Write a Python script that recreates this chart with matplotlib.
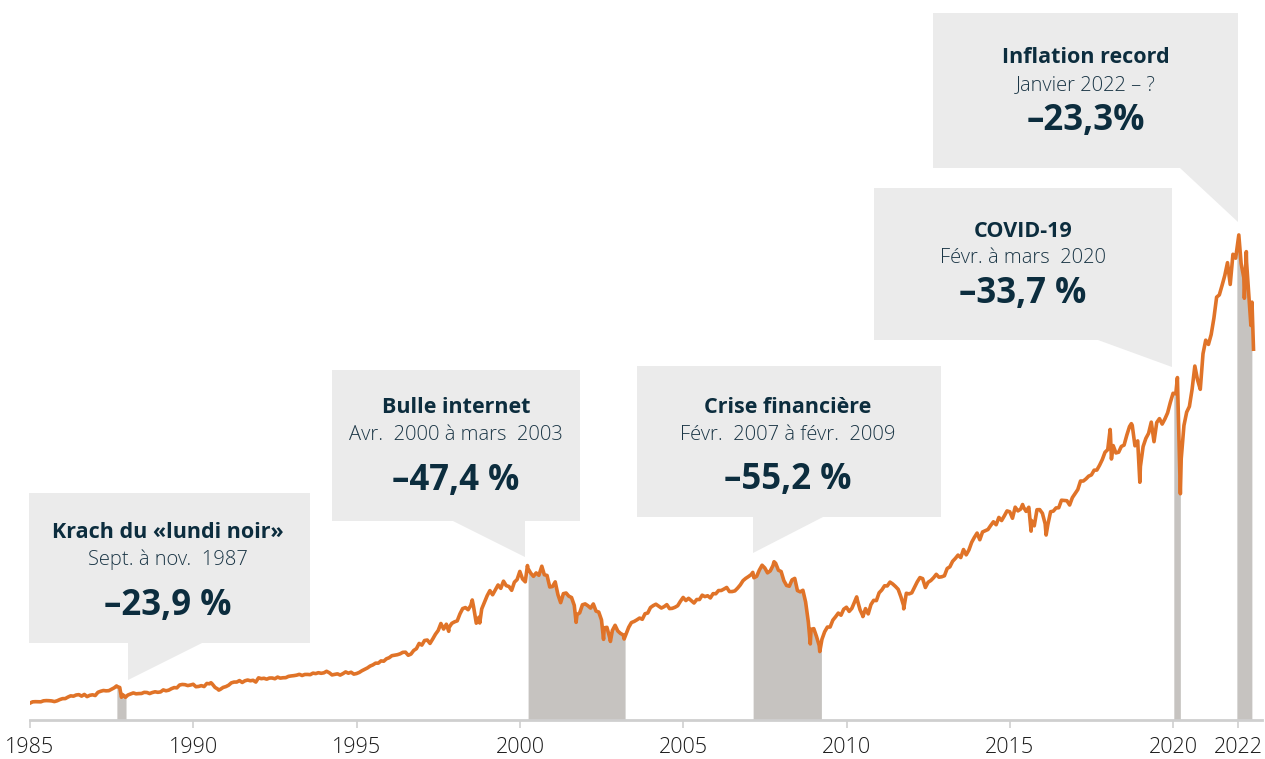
import numpy as np
import matplotlib
matplotlib.use('Agg')
from matplotlib import pyplot as plt
from matplotlib.patches import Polygon

# S&P 500, month-end closes Jan 1985 .. May 2022
start_value = 167.2
monthly_close = [
    179.6, 181.2, 180.7, 179.8, 189.6, 191.9, 190.9, 188.6, 182.1, 189.8, 202.2, 211.3,  # 1985
    211.8, 226.9, 238.9, 235.5, 247.4, 250.8, 236.1, 252.9, 231.3, 244.0, 249.2, 242.2,  # 1986
    274.1, 284.2, 291.7, 288.4, 290.1, 304.0, 318.7, 329.8, 321.8, 251.8, 230.3, 247.1,  # 1987
    257.1, 267.8, 258.9, 261.3, 262.2, 273.5, 272.0, 261.5, 271.9, 279.0, 273.7, 277.7,  # 1988
    297.5, 288.9, 294.9, 309.6, 320.5, 318.0, 346.1, 351.5, 349.2, 340.4, 346.0, 353.4,  # 1989
    329.1, 331.9, 339.9, 330.8, 361.2, 358.0, 356.2, 322.6, 306.1, 304.0, 322.2, 330.2,  # 1990
    343.9, 367.1, 375.2, 375.3, 389.8, 371.2, 387.8, 395.4, 387.9, 392.5, 375.2, 417.1,  # 1991
    408.8, 412.7, 403.7, 415.0, 415.4, 408.1, 424.2, 414.0, 417.8, 418.7, 431.4, 435.7,  # 1992
    438.8, 443.4, 451.7, 440.2, 450.2, 450.5, 448.1, 463.6, 458.9, 467.8, 461.8, 466.5,  # 1993
    481.6, 467.1, 445.8, 450.9, 456.5, 444.3, 458.3, 475.5, 462.7, 472.4, 453.7, 459.3,  # 1994
    470.4, 487.4, 500.7, 514.7, 533.4, 544.8, 562.1, 561.9, 584.4, 581.5, 605.4, 615.9,  # 1995
    636.0, 640.4, 645.5, 654.2, 669.1, 670.6, 640.0, 652.0, 687.3, 705.3, 757.0, 740.7,  # 1996
    786.2, 790.8, 757.1, 801.3, 848.3, 885.1, 954.3, 899.5, 947.3, 914.6, 955.4, 970.4,  # 1997
    980.3, 1049.3, 1101.8, 1111.8, 1090.8, 1133.8, 1120.7, 957.3, 1017.0, 1098.7, 1163.6, 1229.2,  # 1998
    1279.6, 1238.3, 1286.4, 1335.2, 1301.8, 1372.7, 1328.7, 1320.4, 1282.7, 1362.9, 1388.9, 1469.3,  # 1999
    1394.5, 1366.4, 1498.6, 1452.4, 1420.6, 1454.6, 1430.8, 1517.7, 1436.5, 1429.4, 1315.2, 1320.3,  # 2000
    1366.0, 1239.9, 1160.3, 1249.5, 1255.8, 1224.4, 1211.2, 1133.6, 1040.9, 1059.8, 1139.5, 1148.1,  # 2001
    1130.2, 1106.7, 1147.4, 1076.9, 1067.1, 989.8, 911.6, 916.1, 815.3, 885.8, 936.3, 879.8,  # 2002
    855.7, 841.2, 848.2, 916.9, 963.6, 974.5, 990.3, 1008.0, 996.0, 1050.7, 1058.2, 1111.9,  # 2003
    1131.1, 1144.9, 1126.2, 1107.3, 1120.7, 1140.8, 1101.7, 1104.2, 1114.6, 1130.2, 1173.8, 1211.9,  # 2004
    1181.3, 1203.6, 1180.6, 1156.9, 1191.5, 1191.3, 1234.2, 1220.3, 1228.8, 1207.0, 1249.5, 1248.3,  # 2005
    1280.1, 1280.7, 1294.9, 1310.6, 1270.1, 1270.2, 1276.7, 1303.8, 1335.9, 1377.9, 1400.6, 1418.3,  # 2006
    1438.2, 1406.8, 1420.9, 1482.4, 1530.6, 1503.4, 1455.3, 1474.0, 1526.8, 1549.4, 1481.1, 1468.4,  # 2007
    1378.6, 1330.6, 1322.7, 1385.6, 1400.4, 1280.0, 1267.4, 1282.8, 1166.4, 968.8, 896.2, 903.3,  # 2008
    825.9, 735.1, 797.9, 872.8, 919.1, 919.3, 987.5, 1020.6, 1057.1, 1036.2, 1095.6, 1115.1,  # 2009
    1073.9, 1104.5, 1169.4, 1186.7, 1089.4, 1030.7, 1101.6, 1049.3, 1141.2, 1183.3, 1180.6, 1257.6,  # 2010
    1286.1, 1327.2, 1325.8, 1363.6, 1345.2, 1320.6, 1292.3, 1218.9, 1131.4, 1253.3, 1247.0, 1257.6,  # 2011
    1312.4, 1365.7, 1408.5, 1397.9, 1310.3, 1362.2, 1379.3, 1406.6, 1440.7, 1412.2, 1416.2, 1426.2,  # 2012
    1498.1, 1514.7, 1569.2, 1597.6, 1630.7, 1606.3, 1685.7, 1633.0, 1681.6, 1756.5, 1805.8, 1848.4,  # 2013
    1782.6, 1859.5, 1872.3, 1884.0, 1923.6, 1960.2, 1930.7, 2003.4, 1972.3, 2018.1, 2067.6, 2058.9,  # 2014
    1995.0, 2104.5, 2067.9, 2085.5, 2107.4, 2063.1, 2103.8, 1972.2, 1920.0, 2079.4, 2080.4, 2043.9,  # 2015
    1940.2, 1932.2, 2059.7, 2065.3, 2097.0, 2098.9, 2173.6, 2171.0, 2168.3, 2126.2, 2198.8, 2238.8,  # 2016
    2278.9, 2363.6, 2362.7, 2384.2, 2411.8, 2423.4, 2470.3, 2471.7, 2519.4, 2575.3, 2647.6, 2673.6,  # 2017
    2823.8, 2713.8, 2640.9, 2648.1, 2705.3, 2718.4, 2816.3, 2901.5, 2914.0, 2711.7, 2760.2, 2506.9,  # 2018
    2704.1, 2784.5, 2834.4, 2945.8, 2752.1, 2941.8, 2980.4, 2926.5, 2976.7, 3037.6, 3141.0, 3230.8,  # 2019
    3225.5, 2954.2, 2584.6, 2912.4, 3044.3, 3100.3, 3271.1, 3500.3, 3363.0, 3270.0, 3621.6, 3756.1,  # 2020
    3714.2, 3811.2, 3972.9, 4181.2, 4204.1, 4297.5, 4395.3, 4522.7, 4307.5, 4605.4, 4567.0, 4766.2,  # 2021
    4515.6, 4373.9, 4530.4, 4131.9, 4132.2,  # 2022
]

# intra-month highs and lows (decimal year, level)
extreme_dates = [1987.65, 1987.80, 1987.92, 1990.54, 1990.78, 1997.82, 1998.54, 1998.77,
                 2000.23, 2000.67, 2001.72, 2002.56, 2002.77, 2003.19, 2007.13, 2007.78,
                 2008.89, 2009.18, 2010.31, 2010.50, 2011.75, 2015.39, 2015.65, 2016.11,
                 2018.07, 2018.11, 2018.72, 2018.98, 2020.13, 2020.22, 2022.01, 2022.18,
                 2022.24, 2022.38, 2022.46]
extreme_values = [336.8, 224.8, 223.9, 369.0, 295.5, 877.0, 1186.8, 959.4,
                  1527.5, 1520.8, 965.8, 797.7, 776.8, 800.7, 1459.7, 1565.2,
                  752.4, 676.5, 1217.3, 1022.6, 1099.2, 2131.0, 1867.6, 1829.1,
                  2872.9, 2581.0, 2930.8, 2351.1, 3386.2, 2237.4, 4796.6, 4170.7,
                  4631.6, 3901.4, 3666.8]

# shaded bear markets (decimal years)
shade_start = [1987.66, 2000.25, 2007.14, 2020.02, 2021.95]
shade_end = [1987.94, 2003.22, 2009.23, 2020.22, 2022.41]

tick_years = [1985, 1990, 1995, 2000, 2005, 2010, 2015, 2020, 2022]

titles = ['Krach du «lundi noir»', 'Bulle internet', 'Crise financière', 'COVID-19', 'Inflation record']
subtitles = ['Sept. à nov.  1987', 'Avr.  2000 à mars  2003', 'Févr.  2007 à févr.  2009',
             'Févr. à mars  2020', 'Janvier 2022 – ?']
drops = ['–23,9 %', '–47,4 %', '–55,2 %', '–33,7 %', '–23,3%']

# series
month_dates = 1985 + (np.arange(len(monthly_close)) + 1) / 12.0 - 0.003
dates = np.concatenate([[1985.0], month_dates, extreme_dates])
values = np.concatenate([[start_value], monthly_close, extreme_values])
order = np.argsort(dates)
dates = dates[order]
values = values[order]

W, H = 1265, 759
fig = plt.figure(figsize=(W / 100, H / 100), dpi=100)


def fx(px):
    return px / W


def fy(py):
    return 1 - py / H


orange = '#e07328'
navy = '#0c2d3e'
box_col = '#ebebeb'
shade_col = '#c6c3c0'
axis_col = '#cfcfcf'
font = 'Open Sans'

ax = fig.add_axes([fx(30), fy(720), fx(1262) - fx(30), fy(0) - fy(720)])
ax.set_xlim(1985, 2022.72)
ax.set_ylim(0, 7120)

for s, e in zip(shade_start, shade_end):
    m = (dates > s) & (dates < e)
    xs = np.concatenate([[s], dates[m], [e]])
    ys = np.concatenate([[np.interp(s, dates, values)], values[m], [np.interp(e, dates, values)]])
    ax.fill_between(xs, 0, ys, color=shade_col, lw=0, zorder=1)

ax.plot(dates, values, color=orange, lw=2.6, zorder=3, solid_joinstyle='round')

for sp in ['top', 'left', 'right']:
    ax.spines[sp].set_visible(False)
ax.spines['bottom'].set_color(axis_col)
ax.spines['bottom'].set_linewidth(2)
ax.spines['bottom'].set_zorder(4)
ax.set_yticks([])
ax.set_xticks(tick_years)
ax.set_xticklabels([str(y) for y in tick_years])
ax.tick_params(axis='x', length=6, width=1.2, color=axis_col, pad=6,
               labelsize=15.5, labelcolor='#1a1a1a')
for lbl in ax.get_xticklabels():
    lbl.set_family(font)
    lbl.set_fontweight('light')

# callout boxes: left, top, right, bottom, pointer base x1, x2, tip x, tip y  (pixels)
boxes = [
    (29, 493, 310, 643, 128, 202, 128, 680),
    (332, 370, 580, 521, 453, 525, 525, 557),
    (637, 366, 941, 517, 753, 823, 753, 553),
    (874, 188, 1172, 340, 1098, 1172, 1172, 367),
    (933, 13, 1238, 168, 1180, 1238, 1238, 222),
]
text_pos = [
    (168, 538, 565, 615),
    (456, 413, 440, 490),
    (788, 413, 440, 489),
    (1023, 237, 263, 303),
    (1086, 63, 90, 130),
]

for (l, t, r, b, b1, b2, tx, ty) in boxes:
    pts = [(l, t), (r, t), (r, b), (b2, b), (tx, ty), (b1, b), (l, b)]
    fig.patches.append(Polygon([(fx(x), fy(y)) for x, y in pts], closed=True,
                               transform=fig.transFigure, facecolor=box_col,
                               edgecolor='none', zorder=5))

for (cx, y1, y2, y3), t1, t2, t3 in zip(text_pos, titles, subtitles, drops):
    fig.text(fx(cx), fy(y1), t1, ha='center', va='baseline', fontsize=15.5,
             fontweight='bold', color=navy, family=font, zorder=6)
    fig.text(fx(cx), fy(y2), t2, ha='center', va='baseline', fontsize=14.5,
             fontweight='light', color='#1b3646', family=font, zorder=6)
    fig.text(fx(cx), fy(y3), t3, ha='center', va='baseline', fontsize=25,
             fontweight='bold', color=navy, family=font, zorder=6)

plt.savefig('out.png', dpi=100)
